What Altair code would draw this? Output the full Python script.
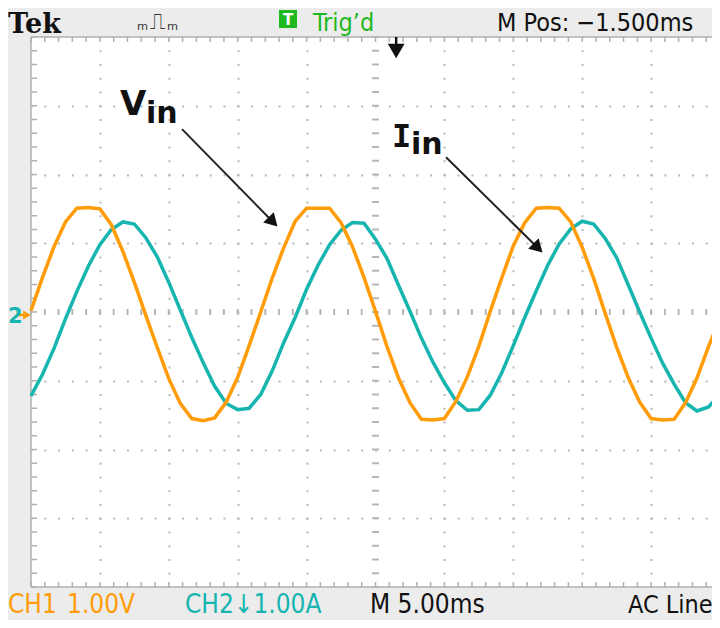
import altair as alt
import pandas as pd

# ---- data (time in ms, 5 ms/div; CH1 1.00 V/div, CH2 1.00 A/div) ----
time_ms = [0, 0.83, 1.67, 2.5, 3.33, 4.17, 5, 5.83, 6.67, 7.5, 8.33, 9.17, 10, 10.83, 11.67,
           12.5, 13.33, 14.17, 15, 15.83, 16.67, 17.5, 18.33, 19.17, 20, 20.83, 21.67, 22.5,
           23.33, 24.17, 25, 25.83, 26.67, 27.5, 28.33, 29.17, 30, 30.83, 31.67, 32.5, 33.33,
           34.17, 35, 35.83, 36.67, 37.5, 38.33, 39.17, 40, 40.83, 41.67, 42.5, 43.33, 44.17,
           45, 45.83, 46.67, 47.5, 48.33, 49.17, 50]
ch1_vin = [0.02, 0.50, 0.95, 1.31, 1.51, 1.52, 1.50, 1.27, 0.88, 0.43, -0.05, -0.52, -0.97,
           -1.33, -1.55, -1.58, -1.54, -1.31, -0.95, -0.49, 0.00, 0.49, 0.93, 1.32, 1.51, 1.51,
           1.51, 1.30, 0.95, 0.50, 0.01, -0.50, -0.96, -1.32, -1.56, -1.57, -1.55, -1.30, -0.94,
           -0.50, 0.01, 0.50, 0.96, 1.30, 1.51, 1.52, 1.51, 1.31, 0.94, 0.49, -0.02, -0.51,
           -0.95, -1.31, -1.55, -1.57, -1.56, -1.32, -0.96, -0.50, -0.10]
ch2_iin = [-1.22, -0.91, -0.53, -0.10, 0.30, 0.67, 0.98, 1.20, 1.31, 1.28, 1.08, 0.80, 0.43,
           0.03, -0.37, -0.74, -1.08, -1.33, -1.42, -1.40, -1.20, -0.86, -0.45, -0.08, 0.33,
           0.68, 0.98, 1.19, 1.30, 1.29, 1.06, 0.78, 0.39, 0.01, -0.38, -0.73, -1.03, -1.29,
           -1.43, -1.42, -1.21, -0.88, -0.49, -0.08, 0.31, 0.68, 0.99, 1.21, 1.32, 1.28, 1.07,
           0.79, 0.40, 0.00, -0.38, -0.74, -1.05, -1.32, -1.44, -1.38, -1.20]

# annotation arrows (Vin, Iin)
arrow_t0 = [10.96, 30.12]
arrow_v0 = [2.66, 2.25]
arrow_t1 = [17.56, 36.79]
arrow_v1 = [1.31, 0.93]
arrow_angle = [135.6, 134.7]

trigger_time = [26.5]

# graticule
major_t = [5, 10, 15, 20, 30, 35, 40, 45]
major_v = [-3, -2, -1, 1, 2, 3]
minor_t = list(range(0, 51))
minor_v = [round(-4 + 0.2 * i, 1) for i in range(41)]

# ---- styling ----
W, H = 681, 550          # right part of the 10-division screen falls off the picture
T_MAX = 49.42            # time visible across W pixels at 13.78 px/ms
ORANGE = "#ff9c08"
CYAN = "#16b5b0"
GREEN = "#1fb81f"
GRID = "#b6b6b6"
EDGE = "#b0b0b0"
NARROW = "Liberation Sans Narrow, DejaVu Sans Condensed, Roboto Condensed, Arial Narrow, sans-serif"

xs = alt.Scale(domain=[0, T_MAX], nice=False, zero=False)
ys = alt.Scale(domain=[-4, 4], nice=False, zero=False)
xaxis = alt.Axis(values=major_t, grid=True, gridColor=GRID, gridDash=[2, 11.75], gridDashOffset=1,
                 gridWidth=2, labels=False, ticks=False, domain=False, title=None)
yaxis = alt.Axis(values=major_v, grid=True, gridColor=GRID, gridDash=[2, 11.78], gridDashOffset=1,
                 gridWidth=2, labels=False, ticks=False, domain=False, title=None)

X = lambda f: alt.X(f, scale=xs, axis=xaxis)
Y = lambda f: alt.Y(f, scale=ys, axis=yaxis)

dummy = pd.DataFrame({"d": [0]})
tdf = pd.DataFrame({"t": minor_t, "c": [0] * len(minor_t)})
vdf = pd.DataFrame({"v": minor_v, "c": [25] * len(minor_v)})
df1 = pd.DataFrame({"t": time_ms, "v": ch1_vin})
df2 = pd.DataFrame({"t": time_ms, "v": ch2_iin})
adf = pd.DataFrame({"t0": arrow_t0, "v0": arrow_v0, "t1": arrow_t1, "v1": arrow_v1, "ang": arrow_angle})
trg = pd.DataFrame({"t": trigger_time})

layers = []

# screen border (left, top, bottom)
layers.append(alt.Chart(dummy).mark_rule(color=EDGE, strokeWidth=1.5)
              .encode(x=alt.value(0), x2=alt.value(W + 10), y=alt.value(0)))
layers.append(alt.Chart(dummy).mark_rule(color=EDGE, strokeWidth=1.5)
              .encode(x=alt.value(0), x2=alt.value(W + 10), y=alt.value(H)))
layers.append(alt.Chart(dummy).mark_rule(color=EDGE, strokeWidth=1.5)
              .encode(x=alt.value(0), y=alt.value(0), y2=alt.value(H)))

# centre-line dashes and edge ticks
layers.append(alt.Chart(tdf).mark_tick(orient="vertical", size=6, thickness=2, color=GRID, opacity=1)
              .encode(x=X("t:Q"), y=Y("c:Q")))
layers.append(alt.Chart(vdf).mark_tick(orient="horizontal", size=7, thickness=2, color=GRID, opacity=1)
              .encode(x=X("c:Q"), y=Y("v:Q")))
layers.append(alt.Chart(tdf).mark_tick(orient="vertical", size=5, thickness=1.5, color=EDGE, opacity=1)
              .encode(x=X("t:Q"), y=alt.value(2.5)))
layers.append(alt.Chart(tdf).mark_tick(orient="vertical", size=5, thickness=1.5, color=EDGE, opacity=1)
              .encode(x=X("t:Q"), y=alt.value(H - 2.5)))
layers.append(alt.Chart(vdf).mark_tick(orient="horizontal", size=6, thickness=1.5, color=EDGE, opacity=1)
              .encode(x=alt.value(3), y=Y("v:Q")))

# waveforms
layers.append(alt.Chart(df2).mark_line(color=CYAN, strokeWidth=3.5)
              .encode(x=X("t:Q"), y=Y("v:Q")))
layers.append(alt.Chart(df1).mark_line(color=ORANGE, strokeWidth=3.5)
              .encode(x=X("t:Q"), y=Y("v:Q")))

# annotation arrows
layers.append(alt.Chart(adf).mark_rule(color="#222222", strokeWidth=2)
              .encode(x=X("t0:Q"), y=Y("v0:Q"), x2="t1:Q", y2="v1:Q"))
layers.append(alt.Chart(adf).mark_point(shape="triangle-up", filled=True, size=220, color="#111111", opacity=1)
              .encode(x=X("t1:Q"), y=Y("v1:Q"), angle=alt.Angle("ang:Q", scale=None)))

# trigger position marker
layers.append(alt.Chart(trg).mark_rule(color="#111111", strokeWidth=2.5)
              .encode(x=X("t:Q"), y=alt.value(0), y2=alt.value(10)))
layers.append(alt.Chart(trg).mark_point(shape="triangle-down", filled=True, size=280, color="#111111", opacity=1)
              .encode(x=X("t:Q"), y=alt.value(14)))

# channel ground marker
layers.append(alt.Chart(dummy).mark_rule(color=ORANGE, strokeWidth=2.5)
              .encode(x=alt.value(-12), x2=alt.value(-5), y=alt.value(278)))
layers.append(alt.Chart(dummy).mark_point(shape="triangle-right", filled=True, size=80, color=ORANGE, opacity=1)
              .encode(x=alt.value(-4), y=alt.value(278)))


def label(txt, x, y, size, color="#111111", font=NARROW, weight="normal"):
    return (alt.Chart(dummy)
            .mark_text(text=txt, align="left", baseline="alphabetic", fontSize=size, color=color,
                       font=font, fontWeight=weight)
            .encode(x=alt.value(x), y=alt.value(y)))


layers.append(label("2", -23, 286, 21, CYAN, "DejaVu Sans", "bold"))

# status bar (top)
layers.append(label("Tek", -23, -4, 27, "#111111", "DejaVu Serif", "bold"))
layers.append(label("ₘ", 106, -7, 18, "#333333", "DejaVu Sans", "normal"))
layers.append(label("⎍", 119, -8, 22, "#333333", "DejaVu Sans", "normal"))
layers.append(label("ₘ", 136, -7, 18, "#333333", "DejaVu Sans", "normal"))
layers.append(alt.Chart(dummy).mark_rect(color=GREEN)
              .encode(x=alt.value(248), x2=alt.value(266), y=alt.value(-27), y2=alt.value(-9)))
layers.append(alt.Chart(dummy).mark_text(text="T", align="center", baseline="alphabetic", fontSize=15,
                                         color="white", font="DejaVu Sans", fontWeight="bold")
              .encode(x=alt.value(257), y=alt.value(-12)))
layers.append(label("Trig’d", 282, -6, 25, GREEN))
layers.append(label("M Pos: −1.500ms", 466, -6, 25, "#111111"))

# status bar (bottom)
layers.append(label("CH1", -23, 576, 26, ORANGE))
layers.append(label("1.00V", 36, 576, 26, ORANGE))
layers.append(label("CH2↓1.00A", 154, 576, 26, CYAN))
layers.append(label("M 5.00ms", 339, 576, 26, "#111111"))
layers.append(label("AC Line", 597, 576, 25, "#111111"))

# V_in, I_in annotations
layers.append(label("V", 89, 78, 34, "#111111", "DejaVu Sans", "bold"))
layers.append(label("in", 115, 86, 30, "#111111", "DejaVu Sans", "bold"))
layers.append(label("I", 361, 110, 32, "#111111", "DejaVu Sans Mono", "bold"))
layers.append(label("in", 380, 117, 30, "#111111", "DejaVu Sans", "bold"))

chart = (alt.layer(*layers)
         .properties(width=W, height=H, background="#ececec",
                     padding={"left": 23, "top": 29, "right": 0, "bottom": 33},
                     autosize=alt.AutoSizeParams(type="none"))
         .configure_view(fill="white", strokeWidth=0))

chart.save("out.html", embed_options={"renderer": "svg", "actions": False})
